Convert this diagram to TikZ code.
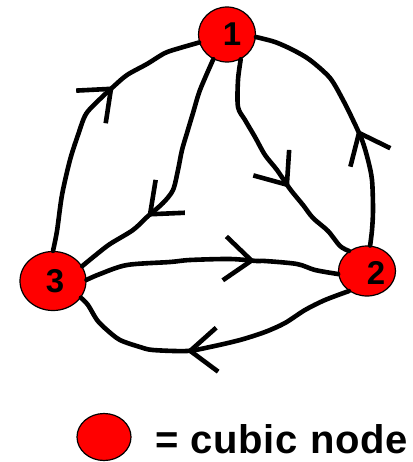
\documentclass[tikz,border=0pt]{standalone}
\usepackage{fontspec}
\setmainfont{Liberation Sans}
\usetikzlibrary{arrows.meta,decorations.markings,shapes.geometric}
\begin{document}
\begin{tikzpicture}[x=1pt,y=1pt,
  cnode/.style={ellipse,fill=red,draw=black,line width=1.2pt,inner sep=0pt},
  edge/.style={line width=4.6pt,line join=round,line cap=round},
  barb/.style={postaction={decorate},decoration={markings,mark=at position #1 with {\arrow{Straight Barb[length=27pt,width=44pt,line width=4.6pt]}}}},
  lbl/.style={font=\bfseries\fontsize{33}{33}\selectfont}]
\useasboundingbox (0,0) rectangle (412,-462);
% nodes
\node[cnode,minimum width=57pt,minimum height=55pt,label={[lbl,xshift=5pt]center:1}] (n1) at (227,-34.5) {};
\node[cnode,minimum width=57pt,minimum height=50pt,label={[lbl,xshift=9pt,yshift=-2pt]center:2}] (n2) at (367,-271) {};
\node[cnode,minimum width=66pt,minimum height=59pt,label={[lbl,xshift=2pt]center:3}] (n3) at (53,-281) {};
% edges
\draw[edge,barb=0.65] plot[smooth,tension=0.5] coordinates {(n3.90) (57,-231) (62,-195) (70,-160) (78,-135) (86,-114) (100,-99) (113,-87) (127,-75) (147,-64) (165,-53) (180,-48) (n1.196)};
\draw[edge,barb=0.68] plot[smooth,tension=0.5] coordinates {(n1.241) (200,-90) (193,-113) (187,-133) (182,-150) (178,-170) (173,-190) (163,-203) (147,-217) (133,-230) (110,-244) (97,-254) (n3.27)};
\draw[edge,barb=0.62] plot[smooth,tension=0.5] coordinates {(n1.299) (238,-80) (238,-107) (245,-120) (255,-137) (265,-155) (277,-170) (290,-189) (303,-205) (313,-218) (328,-231) (340,-246) (n2.132)};
\draw[edge,barb=0.45] plot[smooth,tension=0.5] coordinates {(n2.83) (372,-230) (373,-210) (372,-180) (368,-160) (362,-140) (352,-118) (343,-100) (330,-78) (310,-60) (293,-50) (275,-42) (n1.-5)};
\draw[edge,barb=0.67] plot[smooth,tension=0.5] coordinates {(n3.2) (100,-274) (127,-265) (170,-262) (190,-260) (230,-259) (257,-261) (265,-261) (297,-264) (315,-270) (n2.186)};
\draw[edge,barb=0.58] plot[smooth,tension=0.5] coordinates {(n2.228) (325,-300) (305,-310) (285,-323) (265,-332) (240,-340) (210,-347) (187,-351) (153,-350) (140,-347) (120,-340) (107,-330) (97,-320) (88,-305) (n3.-31)};
% legend
\node[cnode,minimum width=54pt,minimum height=47pt] (leg) at (104,-437) {};
\node[anchor=base west,inner sep=0pt,font=\bfseries\fontsize{40}{40}\selectfont\addfontfeature{LetterSpace=2}] (legtxt) at (155,-453) {= cubic node};
\end{tikzpicture}
\end{document}
